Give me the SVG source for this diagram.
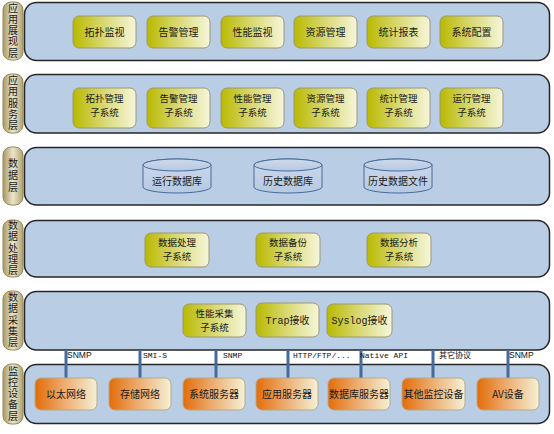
<svg xmlns="http://www.w3.org/2000/svg" width="554" height="434" viewBox="0 0 554 434">
<defs>
<linearGradient id="gGreen" x1="0" y1="0" x2="1" y2="0">
<stop offset="0" stop-color="#b9b900"/>
<stop offset="0.45" stop-color="#d6d66a"/>
<stop offset="1" stop-color="#f6f6dc"/>
</linearGradient>
<linearGradient id="gOrange" x1="0" y1="0" x2="1" y2="0">
<stop offset="0" stop-color="#e36c09"/>
<stop offset="0.45" stop-color="#eca96a"/>
<stop offset="1" stop-color="#f5f1d6"/>
</linearGradient>
<linearGradient id="gPill" x1="0" y1="0" x2="1" y2="0">
<stop offset="0" stop-color="#a89868"/>
<stop offset="0.5" stop-color="#ebe6cc"/>
<stop offset="1" stop-color="#b0a274"/>
</linearGradient>
<linearGradient id="gCyl" x1="0" y1="0" x2="0" y2="1">
<stop offset="0" stop-color="#cdd9ec"/>
<stop offset="1" stop-color="#b5c9e2"/>
</linearGradient>
</defs>
<style>
.panel{fill:#b9cde5;stroke:#262626;stroke-width:1.5}
.pill{fill:url(#gPill);stroke:#948a54;stroke-width:1}
.gb{fill:url(#gGreen);stroke:#9c9870;stroke-width:1}
.ob{fill:url(#gOrange);stroke:#b8a888;stroke-width:1}
.cyl{fill:url(#gCyl);stroke:#4a6b9a;stroke-width:1}
.t{font-family:"Noto Sans CJK SC",sans-serif;font-size:10px;fill:#1a1a1a;text-anchor:middle}
.t2{font-family:"Noto Sans CJK SC",sans-serif;font-size:9.5px;fill:#1a1a1a;text-anchor:middle}
.tm{font-family:"Liberation Mono","Noto Sans CJK SC",monospace;font-size:10px;fill:#1a1a1a;text-anchor:middle}
.lt{font-family:"Noto Sans CJK SC",sans-serif;font-size:10px;fill:#1a1a1a;text-anchor:middle;writing-mode:vertical-rl;letter-spacing:1.2px}
.cl{font-family:"Liberation Mono","Noto Sans CJK SC",monospace;font-size:8px;fill:#111}
.cs{font-family:"Liberation Sans",sans-serif;font-size:8.5px;fill:#111}
.conn{stroke:#47699b;stroke-width:3;fill:none}
</style>

<g id="layer1">
<rect class="pill" x="3" y="2" width="20" height="58" rx="8"/>
<text class="lt" x="13" y="31">应用展现层</text>
<rect class="panel" x="24.5" y="2.5" width="525" height="58" rx="12"/>
</g>
<g id="n-tpjs"><rect class="gb" x="73" y="16" width="63" height="32" rx="6"/><text class="t" x="104.5" y="36">拓扑监视</text></g>
<g id="n-gjgl"><rect class="gb" x="147" y="16" width="63" height="32" rx="6"/><text class="t" x="178.5" y="36">告警管理</text></g>
<g id="n-xnjs"><rect class="gb" x="221" y="16" width="63" height="32" rx="6"/><text class="t" x="252.5" y="36">性能监视</text></g>
<g id="n-zygl"><rect class="gb" x="294" y="16" width="63" height="32" rx="6"/><text class="t" x="325.5" y="36">资源管理</text></g>
<g id="n-tjbb"><rect class="gb" x="367" y="16" width="63" height="32" rx="6"/><text class="t" x="398.5" y="36">统计报表</text></g>
<g id="n-xtpz"><rect class="gb" x="440" y="16" width="63" height="32" rx="6"/><text class="t" x="471.5" y="36">系统配置</text></g>

<g id="layer2">
<rect class="pill" x="3" y="74" width="20" height="59" rx="8"/>
<text class="lt" x="13" y="103.5">应用服务层</text>
<rect class="panel" x="24.5" y="74.5" width="525" height="58.5" rx="12"/>
</g>
<g id="n-tpglzx"><rect class="gb" x="73" y="88" width="63" height="40" rx="6"/><text class="t2"><tspan x="104.5" y="102">拓扑管理</tspan><tspan x="104.5" y="116">子系统</tspan></text></g>
<g id="n-gjglzx"><rect class="gb" x="147" y="88" width="63" height="40" rx="6"/><text class="t2"><tspan x="178.5" y="102">告警管理</tspan><tspan x="178.5" y="116">子系统</tspan></text></g>
<g id="n-xnglzx"><rect class="gb" x="221" y="88" width="63" height="40" rx="6"/><text class="t2"><tspan x="252.5" y="102">性能管理</tspan><tspan x="252.5" y="116">子系统</tspan></text></g>
<g id="n-zyglzx"><rect class="gb" x="294" y="88" width="63" height="40" rx="6"/><text class="t2"><tspan x="325.5" y="102">资源管理</tspan><tspan x="325.5" y="116">子系统</tspan></text></g>
<g id="n-tjglzx"><rect class="gb" x="367" y="88" width="63" height="40" rx="6"/><text class="t2"><tspan x="398.5" y="102">统计管理</tspan><tspan x="398.5" y="116">子系统</tspan></text></g>
<g id="n-yxglzx"><rect class="gb" x="440" y="88" width="63" height="40" rx="6"/><text class="t2"><tspan x="471.5" y="102">运行管理</tspan><tspan x="471.5" y="116">子系统</tspan></text></g>

<g id="layer3">
<rect class="pill" x="3" y="147" width="20" height="58" rx="8"/>
<text class="lt" x="13" y="176" style="letter-spacing:2px">数据层</text>
<rect class="panel" x="24.5" y="147.5" width="525" height="57.5" rx="12"/>
</g>
<g id="n-yxsjk"><path class="cyl" d="M143,165 A34,6 0 0,1 211,165 L211,187 A34,6 0 0,1 143,187 Z"/><ellipse class="cyl" cx="177" cy="165" rx="34" ry="6"/><text class="t" x="177" y="185">运行数据库</text></g>
<g id="n-lssjk"><path class="cyl" d="M254,165 A34,6 0 0,1 322,165 L322,187 A34,6 0 0,1 254,187 Z"/><ellipse class="cyl" cx="288" cy="165" rx="34" ry="6"/><text class="t" x="288" y="185">历史数据库</text></g>
<g id="n-lssjwj"><path class="cyl" d="M364,165 A34,6 0 0,1 432,165 L432,187 A34,6 0 0,1 364,187 Z"/><ellipse class="cyl" cx="398" cy="165" rx="34" ry="6"/><text class="t" x="398" y="185">历史数据文件</text></g>

<g id="layer4">
<rect class="pill" x="3" y="220" width="20" height="57" rx="8"/>
<text class="lt" x="13" y="248.5">数据处理层</text>
<rect class="panel" x="24.5" y="220.5" width="525" height="56.5" rx="12"/>
</g>
<g id="n-sjcl"><rect class="gb" x="145" y="233" width="64" height="34" rx="6"/><text class="t2"><tspan x="177" y="246">数据处理</tspan><tspan x="177" y="260">子系统</tspan></text></g>
<g id="n-sjbf"><rect class="gb" x="256" y="233" width="64" height="34" rx="6"/><text class="t2"><tspan x="288" y="246">数据备份</tspan><tspan x="288" y="260">子系统</tspan></text></g>
<g id="n-sjfx"><rect class="gb" x="367" y="233" width="64" height="34" rx="6"/><text class="t2"><tspan x="399" y="246">数据分析</tspan><tspan x="399" y="260">子系统</tspan></text></g>

<g id="layer5">
<rect class="pill" x="3" y="291" width="20" height="59" rx="8"/>
<text class="lt" x="13" y="320.5">数据采集层</text>
<rect class="panel" x="24.5" y="291.5" width="525" height="58.5" rx="12"/>
</g>
<g id="n-xncj"><rect class="gb" x="183" y="304" width="63" height="33" rx="6"/><text class="t2"><tspan x="214.5" y="317">性能采集</tspan><tspan x="214.5" y="331">子系统</tspan></text></g>
<g id="n-trap"><rect class="gb" x="256" y="303" width="63" height="34" rx="6"/><text class="tm" x="287.5" y="324">Trap接收</text></g>
<g id="n-syslog"><rect class="gb" x="327" y="304" width="65" height="33" rx="6"/><text class="tm" x="359.5" y="324">Syslog接收</text></g>

<g id="layer6">
<rect class="pill" x="3" y="364" width="20" height="60" rx="8"/>
<text class="lt" x="13" y="394">监控设备层</text>
<rect class="panel" x="24.5" y="364.5" width="525" height="59" rx="12"/>
</g>

<g id="connectors">
<line class="conn" x1="66" y1="350" x2="66" y2="378"/>
<line class="conn" x1="140" y1="350" x2="140" y2="378"/>
<line class="conn" x1="216" y1="350" x2="216" y2="378"/>
<line class="conn" x1="288" y1="350" x2="288" y2="378"/>
<line class="conn" x1="361" y1="350" x2="361" y2="378"/>
<line class="conn" x1="433" y1="350" x2="433" y2="378"/>
<line class="conn" x1="508" y1="350" x2="508" y2="378"/>
<text class="cs" x="67" y="358">SNMP</text>
<text class="cl" x="143" y="358">SMI-S</text>
<text class="cl" x="223" y="358">SNMP</text>
<text class="cl" x="293" y="358">HTTP/FTP/...</text>
<text class="cl" x="360" y="358">Native API</text>
<text class="cl" x="439" y="358">其它协议</text>
<text class="cs" x="509" y="358">SNMP</text>
</g>

<g id="n-ytwl"><rect class="ob" x="35" y="378" width="62" height="32" rx="6"/><text class="t" x="66" y="398">以太网络</text></g>
<g id="n-ccwl"><rect class="ob" x="109" y="378" width="62" height="32" rx="6"/><text class="t" x="140" y="398">存储网络</text></g>
<g id="n-xtfwq"><rect class="ob" x="183" y="378" width="62" height="32" rx="6"/><text class="t" x="214" y="398">系统服务器</text></g>
<g id="n-yyfwq"><rect class="ob" x="256" y="378" width="62" height="32" rx="6"/><text class="t" x="287" y="398">应用服务器</text></g>
<g id="n-sjkfwq"><rect class="ob" x="328" y="378" width="62" height="32" rx="6"/><text class="t" x="359" y="398">数据库服务器</text></g>
<g id="n-qtjksb"><rect class="ob" x="402" y="378" width="63" height="32" rx="6"/><text class="t" x="433.5" y="398">其他监控设备</text></g>
<g id="n-av"><rect class="ob" x="477" y="378" width="62" height="32" rx="6"/><text class="t" x="508" y="398">AV设备</text></g>
</svg>
